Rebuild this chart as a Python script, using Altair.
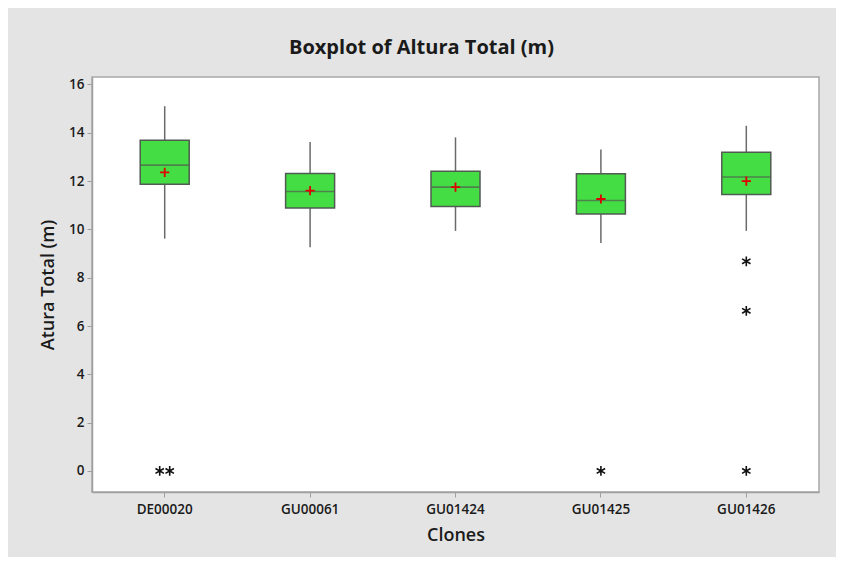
import altair as alt
import pandas as pd

clones = ["DE00020", "GU00061", "GU01424", "GU01425", "GU01426"]
whisker_low = [9.62, 9.26, 9.94, 9.44, 9.94]
q1 = [11.87, 10.89, 10.95, 10.64, 11.45]
median = [12.66, 11.57, 11.75, 11.20, 12.17]
q3 = [13.69, 12.31, 12.41, 12.30, 13.20]
whisker_high = [15.10, 13.62, 13.81, 13.31, 14.29]
means = [12.36, 11.61, 11.75, 11.26, 12.00]

outlier_clone = ["DE00020", "DE00020", "GU01425", "GU01426", "GU01426", "GU01426"]
outlier_value = [0.0, 0.0, 0.0, 8.68, 6.63, 0.0]

y_ticks = [0, 2, 4, 6, 8, 10, 12, 14, 16]

box_df = pd.DataFrame({
    "Clones": clones, "lo": whisker_low, "q1": q1, "med": median,
    "q3": q3, "hi": whisker_high, "mean": means,
})

# side-by-side placement of tied outliers (Minitab style)
counts = {}
for c, v in zip(outlier_clone, outlier_value):
    counts[(c, v)] = counts.get((c, v), 0) + 1
rows = []
idx = {}
for c, v in zip(outlier_clone, outlier_value):
    n = counts[(c, v)]
    i = idx.get((c, v), 0)
    idx[(c, v)] = i + 1
    k = 0.0 if n == 1 else (i - (n - 1) / 2)
    rows.append({"Clones": c, "val": v, "k": k})
out_df = pd.DataFrame(rows)

W = 727
BAND = W / len(clones)

FONT = "Open Sans"
x_enc = alt.X("Clones:N", sort=clones,
              scale=alt.Scale(paddingInner=0, paddingOuter=0),
              axis=alt.Axis(title="Clones", labelAngle=0))
y_scale = alt.Scale(domain=[-0.87, 16.31], nice=False, zero=False)
y_axis = alt.Axis(title="Atura Total (m)", values=y_ticks, grid=False)

base = alt.Chart(box_df)

whisk_low = base.mark_rule(color="#6a6a6a", strokeWidth=1.5).encode(
    x=x_enc, y=alt.Y("lo:Q", scale=y_scale, axis=y_axis), y2="q1:Q")
whisk_high = base.mark_rule(color="#6a6a6a", strokeWidth=1.5).encode(
    x=x_enc, y=alt.Y("q3:Q", scale=y_scale, axis=y_axis), y2="hi:Q")
box = base.mark_bar(size=49, fill="#44dd44", stroke="#515b51", strokeWidth=1.5).encode(
    x=x_enc, y=alt.Y("q1:Q", scale=y_scale, axis=y_axis), y2="q3:Q")
med = base.mark_tick(size=48, thickness=1.6, color="#515b51").encode(
    x=x_enc, y=alt.Y("med:Q", scale=y_scale, axis=y_axis))
mean_pt = base.mark_point(
    shape="M-1,0L1,0M0,-1L0,1", filled=False, stroke="#e00000",
    strokeWidth=1.8, size=85, opacity=1).encode(
    x=x_enc, y=alt.Y("mean:Q", scale=y_scale, axis=y_axis))

outl = alt.Chart(out_df).mark_point(
    shape="M0,-1L0,1M-0.866,-0.5L0.866,0.5M-0.866,0.5L0.866,-0.5",
    filled=False, stroke="#111111", strokeWidth=1.6, size=95, opacity=1).encode(
    x=x_enc,
    xOffset=alt.XOffset("k:Q", scale=alt.Scale(domain=[-1, 1],
                                               range=[BAND / 2 - 10, BAND / 2 + 10])),
    y=alt.Y("val:Q", scale=y_scale, axis=y_axis))

chart = alt.layer(whisk_low, whisk_high, box, med, mean_pt, outl).properties(
    width=W, height=415,
    title=alt.Title("Boxplot of Altura Total (m)", fontSize=20, font=FONT,
                    fontWeight="bold", color="#1a1a1a", anchor="middle",
                    dx=-34, offset=3, baseline="alphabetic"),
    background="#e4e4e4",
    padding={"left": 84, "top": 69, "right": 17, "bottom": 65},
    autosize=alt.AutoSizeParams(type="none"),
).configure_view(
    fill="white", stroke="#a8a8a8", strokeWidth=1.5
).configure_axis(
    labelFont=FONT, labelFontSize=13.5, labelFontWeight=600, labelColor="#1a1a1a",
    titleFont=FONT, titleFontSize=18, titleFontWeight=600, titleColor="#1a1a1a",
    domainColor="#a0a0a0", domainWidth=1.5, tickColor="#a0a0a0", tickSize=5,
    labelPadding=3,
).configure_axisX(
    titlePadding=11, labelPadding=5
).configure_axisY(
    titlePadding=11
)

chart.save("out.html", embed_options={"renderer": "svg", "actions": False})
